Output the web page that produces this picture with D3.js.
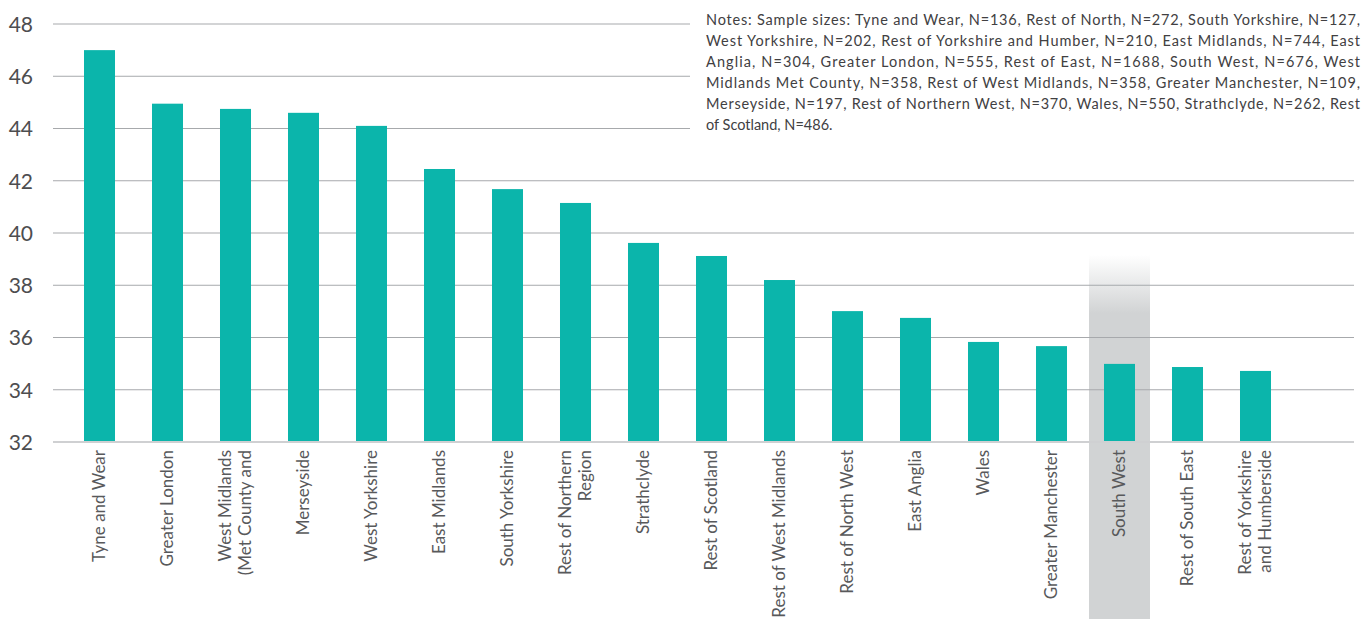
<!DOCTYPE html>
<html><head><meta charset="utf-8">
<script src="https://cdn.jsdelivr.net/npm/d3@7"></script>
<style>body{margin:0;background:#fff}svg{display:block}</style>
</head><body>
<svg id="c" width="1369" height="619"></svg>
<script>
const categories = [
  ["Tyne and Wear"], ["Greater London"], ["West Midlands", "(Met County and"], ["Merseyside"],
  ["West Yorkshire"], ["East Midlands"], ["South Yorkshire"], ["Rest of Northern", "Region"],
  ["Strathclyde"], ["Rest of Scotland"], ["Rest of West Midlands"], ["Rest of North West"],
  ["East Anglia"], ["Wales"], ["Greater Manchester"], ["South West"], ["Rest of South East"],
  ["Rest of Yorkshire", "and Humberside"]
];
const values = [47.0, 44.95, 44.75, 44.6, 44.1, 42.45, 41.68, 41.15, 39.62, 39.12, 38.2, 37.01, 36.75, 35.83, 35.67, 34.99, 34.87, 34.72];
const highlighted = ["South West"];
const yTicks = [32, 34, 36, 38, 40, 42, 44, 46, 48];
const noteLines = [
  "Notes: Sample sizes: Tyne and Wear, N=136, Rest of North, N=272, South Yorkshire, N=127,",
  "West Yorkshire, N=202, Rest of Yorkshire and Humber, N=210, East Midlands, N=744, East",
  "Anglia, N=304, Greater London, N=555, Rest of East, N=1688, South West, N=676, West",
  "Midlands Met County, N=358, Rest of West Midlands, N=358, Greater Manchester, N=109,",
  "Merseyside, N=197, Rest of Northern West, N=370, Wales, N=550,  Strathclyde, N=262, Rest",
  "of Scotland, N=486."
];

const svg = d3.select("#c");
const font = "Lato, 'Open Sans', sans-serif";
const names = categories.map(c => c.join(" "));

const x = d3.scaleBand().domain(names).range([65.5, 65.5 + 68 * 18]).paddingInner(0.544).paddingOuter(0.272);
const y = d3.scaleLinear().domain([32, 48]).range([442, 24]);

// highlight band
const defs = svg.append("defs");
const g = defs.append("linearGradient").attr("id", "hl").attr("x1", 0).attr("y1", 0).attr("x2", 0).attr("y2", 1);
g.append("stop").attr("offset", 0).attr("stop-color", "#d1d3d4").attr("stop-opacity", 0);
g.append("stop").attr("offset", 0.16).attr("stop-color", "#d1d3d4").attr("stop-opacity", 1);
g.append("stop").attr("offset", 1).attr("stop-color", "#d1d3d4").attr("stop-opacity", 1);
svg.selectAll("rect.hl").data(highlighted).join("rect").attr("class", "hl")
  .attr("x", d => x(d) + x.bandwidth() / 2 - 30.5).attr("width", 61)
  .attr("y", 255).attr("height", 619 - 255).attr("fill", "url(#hl)");

// gridlines
svg.selectAll("line.grid").data(yTicks.filter(t => t !== 32)).join("line").attr("class", "grid")
  .attr("x1", 53).attr("x2", 1354).attr("y1", d => y(d)).attr("y2", d => y(d))
  .attr("stroke", "#a7a9ac").attr("stroke-width", 1);

// bars
svg.selectAll("rect.bar").data(values).join("rect").attr("class", "bar")
  .attr("x", (d, i) => x(names[i])).attr("width", x.bandwidth())
  .attr("y", d => y(d)).attr("height", d => y(32) - y(d)).attr("fill", "#0bb5ab");

// baseline
svg.append("line").attr("x1", 53).attr("x2", 1354).attr("y1", y(32)).attr("y2", y(32))
  .attr("stroke", "#cfd0d2").attr("stroke-width", 2);

// y axis labels
const yAxis = d3.axisLeft(y).tickValues(yTicks).tickSize(0).tickPadding(0);
const ya = svg.append("g").attr("transform", "translate(33,0)").call(yAxis);
ya.select(".domain").remove();
ya.selectAll("text").attr("font-family", font).attr("font-size", 21).attr("fill", "#4d4d4f").attr("dy", "0.35em");

// x labels
const lab = svg.selectAll("g.xl").data(categories).join("g").attr("class", "xl")
  .attr("transform", (d, i) => `translate(${x(names[i]) + x.bandwidth() / 2},450) rotate(-90)`);
lab.each(function(d) {
  const n = d.length;
  d3.select(this).selectAll("text").data(d).join("text")
    .attr("x", 0).attr("y", (t, j) => (j - (n - 1) / 2) * 20)
    .attr("dy", "0.35em").attr("text-anchor", "end")
    .attr("font-family", font).attr("font-size", 17).attr("fill", "#58595b").text(t => t);
});

// notes box
svg.append("rect").attr("x", 690).attr("y", 0).attr("width", 679).attr("height", 150).attr("fill", "#fff");
svg.selectAll("text.note").data(noteLines).join("text").attr("class", "note")
  .attr("x", 706).attr("y", (d, i) => 25 + i * 21)
  .attr("font-family", font).attr("font-size", 14.5).attr("fill", "#414042")
  .each(function(d, i) {
    if (i < noteLines.length - 1) d3.select(this).attr("textLength", 654).attr("lengthAdjust", "spacing");
  })
  .text(d => d);
</script>
</body></html>
